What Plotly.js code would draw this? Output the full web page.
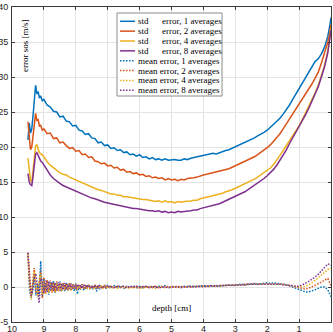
<!DOCTYPE html>
<html>
<head>
<meta charset="utf-8">
<script src="https://cdn.plot.ly/plotly-3.0.1.min.js"></script>
<style>html,body{margin:0;padding:0;background:#fff;}#chart{width:333px;height:332px;}</style>
</head>
<body>
<div id="chart"></div>
<script>
// ---------- data ----------
var depthStd = [9.5,9.46,9.42,9.38,9.34,9.3,9.26,9.22,9.18,9.14,9.1,9.05,9.0,
  8.9,8.8,8.7,8.6,8.5,8.4,8.3,8.2,8.1,8.0,
  7.9,7.8,7.7,7.6,7.5,7.4,7.3,7.2,7.1,7.0,
  6.9,6.8,6.7,6.6,6.5,6.4,6.3,6.2,6.1,6.0,
  5.9,5.8,5.7,5.6,5.5,5.4,5.3,5.2,5.1,5.0,
  4.9,4.8,4.7,4.6,4.5,4.4,4.3,4.2,4.1,4.0,
  3.9,3.8,3.7,3.6,3.5,3.4,3.3,3.2,3.1,3.0,
  2.9,2.8,2.7,2.6,2.5,2.4,2.3,2.2,2.1,2.0,
  1.9,1.8,1.7,1.6,1.5,1.4,1.3,1.2,1.1,1.0,
  0.9,0.8,0.7,0.6,0.5,0.4,0.3,0.2,0.1,0.05,0];

var std1 = [21.0,23.4,22.0,22.6,24.5,26.8,28.8,27.6,27.9,27.0,27.3,26.6,26.8,
  26.0,25.7,25.1,25.0,24.3,24.4,23.7,23.6,23.0,23.1,
  22.4,22.3,21.8,21.9,21.3,21.2,20.6,20.7,20.2,20.3,
  19.8,19.9,19.5,19.6,19.2,19.3,18.9,19.0,18.7,18.9,
  18.5,18.6,18.3,18.5,18.2,18.3,18.1,18.3,18.1,18.2,
  18.2,18.1,18.1,18.3,18.2,18.4,18.5,18.6,18.8,18.8,
  18.9,19.0,19.1,19.0,19.2,19.4,19.5,19.6,19.8,20.0,
  20.2,20.4,20.6,20.8,21.1,21.3,21.6,21.8,22.1,22.4,
  22.8,23.2,23.6,24.1,24.7,25.3,26.0,26.8,27.6,28.4,
  29.2,30.0,30.8,31.5,32.2,32.6,33.3,34.3,35.8,37.0,38.5];

var std2 = [23.6,21.5,19.6,20.0,21.8,23.5,24.8,23.8,23.9,23.0,23.1,22.4,22.6,
  21.9,22.0,21.2,21.3,20.6,20.7,20.2,19.8,19.9,19.4,
  19.5,18.9,19.0,18.5,18.6,18.0,17.9,17.6,17.7,17.3,
  17.4,17.0,17.1,16.7,16.8,16.4,16.5,16.2,16.3,16.0,
  16.1,15.8,15.9,15.6,15.7,15.5,15.6,15.3,15.5,15.3,
  15.4,15.2,15.4,15.3,15.5,15.5,15.6,15.7,15.9,16.0,
  16.1,16.2,16.3,16.4,16.5,16.6,16.8,16.9,17.1,17.3,
  17.5,17.7,17.9,18.1,18.4,18.6,18.9,19.2,19.5,19.9,
  20.3,20.8,21.3,21.9,22.6,23.3,24.0,24.7,25.4,26.1,
  26.9,27.6,28.3,29.0,29.8,30.7,32.0,33.4,35.0,36.0,37.5];

var std4 = [18.4,16.6,15.2,15.0,16.5,18.6,20.2,20.3,19.6,19.2,19.0,18.9,18.6,
  17.9,17.4,17.0,16.6,16.3,16.1,16.0,15.7,15.5,15.3,
  15.0,14.9,14.6,14.5,14.3,14.1,13.9,13.8,13.6,13.5,
  13.3,13.3,13.1,13.1,12.9,12.9,12.8,12.7,12.6,12.6,
  12.5,12.5,12.4,12.4,12.2,12.3,12.1,12.3,12.1,12.2,
  12.0,12.2,12.1,12.2,12.2,12.3,12.4,12.4,12.6,12.7,
  12.8,12.9,13.0,13.1,13.3,13.4,13.6,13.7,13.9,14.1,
  14.3,14.5,14.7,14.9,15.1,15.4,15.7,16.0,16.3,16.6,
  17.0,17.5,18.1,18.8,19.5,20.2,20.8,21.5,22.2,23.0,
  23.9,24.8,25.7,26.7,27.7,28.8,30.2,31.7,33.7,35.1,36.9];

var std8 = [16.2,15.0,14.6,14.5,15.8,17.6,19.0,19.2,18.7,18.3,18.0,17.8,17.4,
  16.6,16.0,15.5,15.1,14.8,14.5,14.3,14.0,13.8,13.6,
  13.4,13.3,13.0,12.9,12.7,12.6,12.4,12.3,12.1,12.0,
  11.9,11.8,11.6,11.6,11.5,11.4,11.3,11.2,11.2,11.1,
  11.0,11.0,10.9,10.9,10.8,10.9,10.7,10.8,10.6,10.7,
  10.6,10.8,10.7,10.8,10.8,10.9,11.0,11.0,11.2,11.3,
  11.4,11.5,11.6,11.8,11.9,12.1,12.3,12.5,12.7,12.9,
  13.1,13.4,13.6,13.9,14.2,14.5,14.8,15.1,15.5,15.9,
  16.3,16.8,17.4,18.1,18.8,19.6,20.5,21.3,22.0,22.8,
  23.7,24.6,25.5,26.5,27.5,28.6,30.0,31.5,33.5,34.9,36.7];

var depthMean = [9.5,9.45,9.4,9.35,9.3,9.25,9.2,9.15,9.1,9.05,
  9.0,8.95,8.9,8.85,8.8,8.75,8.7,8.65,8.6,8.55,
  8.5,8.45,8.4,8.35,8.3,8.25,8.2,8.15,8.1,8.05,
  8.0,7.95,7.9,7.85,7.8,7.75,7.7,7.65,7.6,7.55,
  7.5,7.45,7.4,7.35,7.3,7.25,7.2,7.15,7.1,7.05,
  7.0,
  6.9,6.8,6.7,6.6,6.5,6.4,6.3,6.2,6.1,6.0,
  5.9,5.8,5.7,5.6,5.5,5.4,5.3,5.2,5.1,5.0,
  4.9,4.8,4.7,4.6,4.5,4.4,4.3,4.2,4.1,4.0,
  3.9,3.8,3.7,3.6,3.5,3.4,3.3,3.2,3.1,3.0,
  2.9,2.8,2.7,2.6,2.5,2.4,2.3,2.2,2.1,2.0,
  1.9,1.8,1.7,1.6,1.5,1.4,1.3,1.2,1.1,1.0,
  0.9,0.8,0.7,0.6,0.5,0.4,0.3,0.2,0.1,0.0];

var mean1 = [4.8,-0.5,-1.6,0.6,1.8,-1.2,0.5,-1.3,3.7,-1.4,
  1.2,-0.8,0.9,-1.1,0.8,-0.6,0.9,-0.9,0.6,-0.5,
  0.8,-0.7,0.5,-0.6,0.6,-0.5,0.5,-0.4,0.4,-0.6,
  0.5,-1.0,0.3,-0.4,0.4,-0.5,0.3,-0.3,0.4,-0.4,
  0.2,-0.3,0.3,-0.6,0.2,-0.3,0.2,-0.2,0.3,-0.2,
  0.2,
  -0.2,0.2,-0.1,0.2,-0.2,0.1,-0.1,0.2,-0.1,0.1,
  -0.1,0.1,0.0,0.1,-0.1,0.1,0.0,0.2,-0.1,0.1,
  0.0,0.1,-0.1,0.1,0.0,0.2,0.0,0.1,0.1,0.2,
  0.1,0.2,0.1,0.2,0.1,0.2,0.2,0.3,0.2,0.3,
  0.3,0.4,0.3,0.4,0.4,0.5,0.4,0.5,0.5,0.6,
  0.5,0.6,0.5,0.5,0.4,0.3,0.2,0.0,-0.2,-0.4,
  -0.6,-0.7,-0.7,-0.6,-0.4,-0.2,0.0,0.0,-0.4,-1.4];

var mean2 = [4.9,0.5,-1.4,1.2,2.7,-0.8,-1.0,0.6,2.4,-1.6,
  1.4,-0.9,1.0,-0.7,0.9,-0.8,0.7,-0.6,0.8,-0.7,
  0.6,-0.5,0.6,-0.4,0.5,-0.5,0.6,-0.4,0.4,-0.3,
  0.4,-0.4,0.3,-0.3,0.4,-0.3,0.3,-0.2,0.3,-0.3,
  0.2,-0.2,0.3,-0.2,0.2,-0.2,0.2,-0.1,0.2,-0.2,
  0.1,
  0.1,-0.1,0.2,-0.1,0.1,-0.2,0.1,-0.1,0.1,-0.1,
  0.1,-0.1,0.1,0.0,0.1,-0.1,0.1,0.0,0.1,0.0,
  0.1,0.0,0.1,0.0,0.1,0.0,0.1,0.1,0.0,0.1,
  0.1,0.1,0.2,0.1,0.2,0.2,0.2,0.2,0.3,0.3,
  0.3,0.3,0.4,0.4,0.4,0.4,0.5,0.5,0.5,0.5,
  0.5,0.5,0.5,0.4,0.4,0.3,0.2,0.1,-0.1,-0.2,
  -0.3,-0.3,-0.2,0.0,0.2,0.4,0.7,1.0,1.2,0.2];

var mean4 = [4.7,1.0,-1.8,0.4,2.2,0.5,-1.5,0.8,1.9,-1.0,
  0.8,-1.1,0.6,-0.8,0.7,-0.7,0.5,-0.8,0.5,-0.6,
  0.4,-0.6,0.4,-0.5,0.3,-0.4,0.3,-0.5,0.3,-0.3,
  0.2,-0.4,0.2,-0.3,0.2,-0.3,0.1,-0.3,0.2,-0.2,
  0.1,-0.2,0.1,-0.2,0.1,-0.2,0.1,-0.2,0.1,-0.1,
  0.0,
  -0.2,0.0,-0.2,0.0,-0.1,0.0,-0.2,0.0,-0.1,-0.1,
  -0.2,0.0,-0.1,-0.1,-0.2,0.0,-0.1,-0.1,0.0,-0.1,
  0.0,-0.1,0.0,0.0,0.0,0.0,0.1,0.0,0.1,0.1,
  0.1,0.1,0.1,0.2,0.1,0.2,0.2,0.2,0.2,0.3,
  0.3,0.3,0.3,0.4,0.4,0.4,0.4,0.5,0.5,0.5,
  0.5,0.5,0.4,0.4,0.4,0.3,0.2,0.1,0.0,0.0,
  0.0,0.1,0.3,0.6,0.9,1.3,1.7,2.1,2.5,2.7];

var mean8 = [4.9,2.0,-1.2,-0.6,1.5,1.9,-0.5,-2.3,1.2,1.0,
  -0.9,0.9,-0.7,0.8,-0.6,0.7,-0.6,0.6,-0.5,0.7,
  -0.5,0.5,-0.4,0.6,-0.4,0.4,-0.3,0.5,-0.3,0.3,
  -0.3,0.4,-0.2,0.3,-0.2,0.3,-0.2,0.3,-0.1,0.2,
  -0.2,0.2,-0.1,0.2,-0.1,0.2,-0.1,0.1,-0.1,0.1,
  0.0,
  0.1,-0.1,0.1,0.0,0.1,-0.1,0.1,0.0,0.1,0.0,
  0.0,0.1,-0.1,0.0,0.1,-0.1,0.0,0.0,-0.1,0.0,
  0.0,0.0,0.0,0.1,0.0,0.1,0.0,0.1,0.1,0.1,
  0.1,0.1,0.2,0.1,0.2,0.2,0.2,0.2,0.3,0.3,
  0.3,0.3,0.3,0.4,0.4,0.4,0.4,0.4,0.5,0.5,
  0.5,0.4,0.4,0.4,0.3,0.3,0.2,0.2,0.1,0.1,
  0.3,0.5,0.8,1.1,1.4,1.8,2.3,2.8,3.3,3.1];

var averages = [1, 2, 4, 8];
var colors = ['#0072BD', '#D95319', '#EDB120', '#7E2F8E'];
var stdSeries = [std1, std2, std4, std8];
var meanSeries = [mean1, mean2, mean4, mean8];
var xTicks = [10, 9, 8, 7, 6, 5, 4, 3, 2, 1, 0];
var yTicks = [-5, 0, 5, 10, 15, 20, 25, 30, 35, 40];

// ---------- geometry helpers (plot area in pixels) ----------
var W = 333, H = 332;
var PL = 12, PR = 331, PT = 7, PB = 322;
function px2x(p) { return (p - PL) / (PR - PL); }
function px2y(p) { return 1 - (p - PT) / (PB - PT); }

var NB = '\u00a0';
var DOT = '1.5px,1.5px';
var traces = [];
var labels = [];
averages.forEach(function (a, i) {
  traces.push({x: depthStd, y: stdSeries[i], type: 'scatter', mode: 'lines',
    line: {color: colors[i], width: 1.5}, showlegend: false, hoverinfo: 'skip'});
  labels.push({text: 'std' + NB + NB + NB + NB + NB + ' error, ' + a + ' averages', color: colors[i], dash: 'solid'});
});
averages.forEach(function (a, i) {
  traces.push({x: depthMean, y: meanSeries[i], type: 'scatter', mode: 'lines',
    line: {color: colors[i], width: 1.5, dash: DOT}, showlegend: false, hoverinfo: 'skip'});
  labels.push({text: 'mean error, ' + a + ' averages', color: colors[i], dash: DOT});
});

var serif = 'Liberation Serif, Times New Roman, serif';
var shapes = [{type: 'rect', xref: 'paper', yref: 'paper',
  x0: px2x(117), x1: px2x(222), y0: px2y(96), y1: px2y(13),
  fillcolor: '#ffffff', line: {color: '#8c8c8c', width: 1}, layer: 'above'}];
var annotations = [];
labels.forEach(function (L, k) {
  var py = 21.3 + 9.85 * k;
  shapes.push({type: 'line', xref: 'paper', yref: 'paper',
    x0: px2x(120), x1: px2x(135), y0: px2y(py), y1: px2y(py),
    line: {color: L.color, width: 1.5, dash: L.dash}, layer: 'above'});
  annotations.push({xref: 'paper', yref: 'paper', x: px2x(137), y: px2y(py),
    xanchor: 'left', yanchor: 'middle', showarrow: false, text: L.text,
    font: {family: serif, size: 9, color: '#000'}, borderpad: 0});
});
annotations.push({xref: 'paper', yref: 'paper', x: px2x(25), y: px2y(46),
  xanchor: 'center', yanchor: 'middle',
  textangle: -90, showarrow: false, text: 'error sos [m/s]',
  font: {family: serif, size: 9, color: '#000'}});
annotations.push({xref: 'x', yref: 'paper', x: 5, y: px2y(308),
  xanchor: 'center', yanchor: 'middle',
  showarrow: false, text: 'depth [cm]',
  font: {family: serif, size: 9, color: '#000'}});

var axCommon = {
  showgrid: true, gridcolor: '#e3e3e3', gridwidth: 1,
  zeroline: false, showline: true, linecolor: '#3a3a3a', linewidth: 1,
  mirror: 'ticks', ticks: 'inside', ticklen: 3, tickcolor: '#3a3a3a', tickwidth: 1,
  tickfont: {family: 'Liberation Sans, Arial, sans-serif', size: 9, color: '#262626'}
};

var layout = {
  width: W, height: H,
  margin: {l: PL, r: W - PR, t: PT, b: H - PB, pad: 0},
  paper_bgcolor: '#ffffff', plot_bgcolor: '#ffffff',
  showlegend: false,
  xaxis: Object.assign({}, axCommon, {range: [10, 0], tickmode: 'array', tickvals: xTicks,
    ticktext: xTicks.map(String), ticklabelstandoff: -2}),
  yaxis: Object.assign({}, axCommon, {range: [-5, 40], tickmode: 'array', tickvals: yTicks,
    ticktext: yTicks.map(String), ticklabelstandoff: 1}),
  shapes: shapes,
  annotations: annotations
};

Plotly.newPlot('chart', traces, layout, {staticPlot: true, displayModeBar: false});
</script>
</body>
</html>
